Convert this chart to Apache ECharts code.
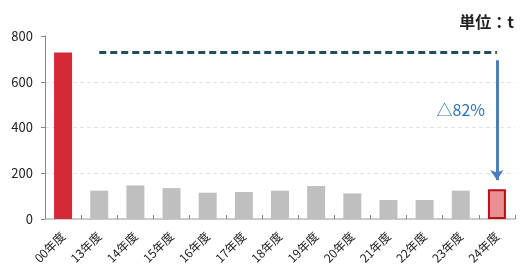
<!DOCTYPE html>
<html><head><meta charset="utf-8">
<script src="https://cdn.jsdelivr.net/npm/echarts@6/dist/echarts.min.js"></script>
<style>html,body{margin:0;padding:0;background:#fff}#c{width:530px;height:280px}</style>
</head><body><div id="c"></div>
<script>
var categories = ['00年度','13年度','14年度','15年度','16年度','17年度','18年度','19年度','20年度','21年度','22年度','23年度','24年度'];
var values = [728, 124, 147, 135, 115, 118, 124, 144, 112, 83, 83, 124, 130];
var yTicks = [0, 200, 400, 600, 800];
var baseLevel = 728;
var arrowFrom = 694, arrowTo = 170;
var changeLabel = '△82%';
var unitLabel = '単位：t';

var font = '"Noto Sans CJK JP", "Noto Sans", sans-serif';
var data = values.map(function (v, i) {
  var item = { value: v, itemStyle: { color: '#bfbfbf' } };
  if (i === 0) item.itemStyle = { color: '#d42a35' };
  if (i === values.length - 1) item.itemStyle = { color: '#e98e93', borderColor: '#b80f18', borderWidth: 2 };
  return item;
});
var chart = echarts.init(document.getElementById('c'), null, { renderer: 'canvas' });
chart.setOption({
  animation: false,
  textStyle: { fontFamily: font },
  title: { text: unitLabel, right: 11, top: 9, textStyle: { fontSize: 16, fontWeight: 'bold', color: '#222', fontFamily: font } },
  grid: { left: 45, right: 15, top: 36, bottom: 61 },
  xAxis: {
    type: 'category', data: categories,
    axisLine: { lineStyle: { color: '#bdbdbd', width: 1.5 } },
    axisTick: { show: true, inside: true, length: 4, lineStyle: { color: '#888' } },
    axisLabel: { rotate: 45, fontSize: 12, color: '#222', margin: 15, fontFamily: font }
  },
  yAxis: {
    type: 'value', min: yTicks[0], max: yTicks[yTicks.length - 1], interval: 200,
    axisLine: { show: true, lineStyle: { color: '#888' } },
    axisTick: { show: true, length: 4, lineStyle: { color: '#888' } },
    axisLabel: { fontSize: 13, color: '#222', margin: 12, fontFamily: font },
    splitLine: { show: true, lineStyle: { type: [4, 3], color: ['#e3e3e3', '#e3e3e3', '#e3e3e3', '#e3e3e3', 'rgba(0,0,0,0)'] } }
  },
  series: [{
    type: 'bar', data: data, barWidth: 18,
    markLine: {
      silent: true, symbol: ['none', 'none'], label: { show: false },
      data: [
        [{ coord: [categories[1], baseLevel], lineStyle: { color: '#1f4e5c', width: 3, type: [7, 4] } },
         { coord: [categories[categories.length - 1], baseLevel] }],
        [{ coord: [categories[categories.length - 1], arrowFrom], symbol: 'none', lineStyle: { color: '#4a7ebf', width: 3, type: 'solid' } },
         { coord: [categories[categories.length - 1], arrowTo], symbol: 'arrow', symbolSize: [10, 10] }]
      ]
    },
    markPoint: {
      silent: true, symbol: 'circle', symbolSize: 0,
      label: { show: true, formatter: changeLabel, fontSize: 16, color: '#2e75b6', fontFamily: font, position: 'inside' },
      data: [{ coord: [categories[categories.length - 2], 476] }]
    }
  }]
});
</script></body></html>
